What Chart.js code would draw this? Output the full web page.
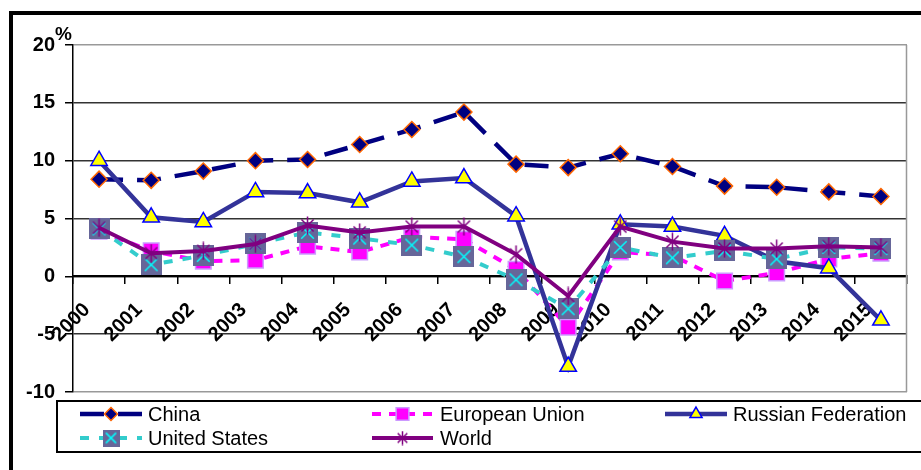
<!DOCTYPE html>
<html><head><meta charset="utf-8">
<script src="https://cdn.jsdelivr.net/npm/chart.js@4.4.1/dist/chart.umd.min.js"></script>
<style>html,body{margin:0;padding:0;background:#fff;}canvas{display:block}</style>
</head><body>
<canvas id="c" width="921" height="470"></canvas>
<script>
const years = ['2000','2001','2002','2003','2004','2005','2006','2007','2008','2009','2010','2011','2012','2013','2014','2015'];
const china  = [8.4, 8.3, 9.1, 10.0, 10.1, 11.4, 12.7, 14.2, 9.7, 9.4, 10.6, 9.5, 7.8, 7.7, 7.3, 6.9];
const eu     = [3.9, 2.2, 1.3, 1.4, 2.6, 2.1, 3.4, 3.2, 0.6, -4.4, 2.1, 1.8, -0.4, 0.3, 1.5, 2.0];
const russia = [10.0, 5.1, 4.7, 7.3, 7.2, 6.4, 8.2, 8.5, 5.2, -7.8, 4.5, 4.3, 3.5, 1.3, 0.7, -3.8];
const usa    = [4.1, 1.0, 1.8, 2.8, 3.8, 3.3, 2.7, 1.7, -0.3, -2.8, 2.5, 1.6, 2.2, 1.5, 2.5, 2.4];
const world  = [4.2, 2.0, 2.2, 2.8, 4.4, 3.8, 4.3, 4.3, 1.9, -1.7, 4.3, 3.0, 2.4, 2.4, 2.6, 2.5];
const seriesNames = ['China','European Union','Russian Federation','United States','World'];
const yTicks = [-10, -5, 0, 5, 10, 15, 20];

function makeUsMarker(s){
  const c=document.createElement('canvas'); c.width=s; c.height=s;
  const x=c.getContext('2d');
  x.fillStyle='#666699'; x.fillRect(0,0,s,s);
  x.strokeStyle='#00FFFF'; x.lineWidth=1.5;
  const m=s*0.2;
  x.beginPath(); x.moveTo(m,m); x.lineTo(s-m,s-m); x.moveTo(s-m,m); x.lineTo(m,s-m); x.stroke();
  return c;
}
function makeStar(s){
  const c=document.createElement('canvas'); c.width=s; c.height=s;
  const x=c.getContext('2d');
  x.strokeStyle='#800080'; x.lineWidth=1.5;
  const m=s*0.18;
  x.beginPath();
  x.moveTo(s/2,0.5); x.lineTo(s/2,s-0.5);
  x.moveTo(m,m); x.lineTo(s-m,s-m); x.moveTo(s-m,m); x.lineTo(m,s-m);
  x.stroke();
  return c;
}
const usMarker = makeUsMarker(21);
const usMarkerSmall = makeUsMarker(17);
const worldStar = makeStar(19);
const worldStarSmall = makeStar(15);

const FONT = '"Liberation Sans", Arial, sans-serif';

const datasets = [
  {label: seriesNames[0], data: china, borderColor:'#000080', backgroundColor:'#000080', borderWidth:4.5, borderDash:[24,14],
   pointStyle:'rectRot', pointRadius:8, pointBorderColor:'#FF6600', pointBackgroundColor:'#000080', pointBorderWidth:1.5, order:5},
  {label: seriesNames[1], data: eu, borderColor:'#FF00FF', backgroundColor:'#FF00FF', borderWidth:4, borderDash:[9,8],
   pointStyle:'rect', pointRadius:11, pointBorderColor:'#CC99FF', pointBackgroundColor:'#FF00FF', pointBorderWidth:1.5, order:4},
  {label: seriesNames[2], data: russia, borderColor:'#333399', backgroundColor:'#333399', borderWidth:4.5,
   pointStyle:'triangle', pointRadius:9.5, pointBorderColor:'#0000FF', pointBackgroundColor:'#FFFF00', pointBorderWidth:1.5, order:3},
  {label: seriesNames[3], data: usa, borderColor:'#33CCCC', backgroundColor:'#33CCCC', borderWidth:4, borderDash:[9,10],
   pointStyle:usMarker, pointRadius:10, order:2},
  {label: seriesNames[4], data: world, borderColor:'#800080', backgroundColor:'#800080', borderWidth:4,
   pointStyle:worldStar, pointRadius:9, order:1}
];
datasets.forEach(d=>{d.tension=0; d.fill=false; d.pointHoverRadius=d.pointRadius;});

const legendCfg = [
  {i:0, x0:80, x1:142, y:414, tx:148, small:{pointStyle:'rectRot', radius:6.5}},
  {i:1, x0:372, x1:433, y:414, tx:440, small:{pointStyle:'rect', radius:9}},
  {i:2, x0:665, x1:727, y:414, tx:733, small:{pointStyle:'triangle', radius:7}},
  {i:3, x0:80, x1:142, y:438, tx:148, small:{pointStyle:usMarkerSmall, radius:8}},
  {i:4, x0:372, x1:433, y:438, tx:440, small:{pointStyle:worldStarSmall, radius:7}}
];

const decor = {
  id:'decor',
  beforeDatasetsDraw(chart){
    const {ctx, chartArea:a} = chart;
    ctx.save();
    ctx.strokeStyle='#999'; ctx.lineWidth=1.5;
    ctx.beginPath(); ctx.moveTo(a.right-0.5, a.top); ctx.lineTo(a.right-0.5, a.bottom); ctx.stroke();
    ctx.restore();
  },
  afterDraw(chart){
    const ctx = chart.ctx;
    ctx.save();
    ctx.fillStyle='#000';
    ctx.fillRect(9,11,912,4);
    ctx.fillRect(9,11,4,459);
    ctx.font='bold 19px '+FONT; ctx.fillStyle='#000'; ctx.textAlign='left'; ctx.textBaseline='alphabetic';
    ctx.fillText('%',55,40);
    ctx.fillStyle='#fff'; ctx.fillRect(57,401,870,51);
    ctx.strokeStyle='#000'; ctx.lineWidth=2;
    ctx.strokeRect(57,401,870,51);
    legendCfg.forEach(L=>{
      const ds = chart.data.datasets[L.i];
      ctx.save();
      ctx.strokeStyle=ds.borderColor; ctx.lineWidth=ds.borderWidth;
      ctx.setLineDash(ds.borderDash||[]);
      ctx.beginPath(); ctx.moveTo(L.x0,L.y); ctx.lineTo(L.x1,L.y); ctx.stroke();
      ctx.setLineDash([]);
      ctx.fillStyle = ds.pointBackgroundColor||ds.borderColor;
      ctx.strokeStyle = ds.pointBorderColor||ds.borderColor;
      ctx.lineWidth = ds.pointBorderWidth||1;
      Chart.helpers.drawPoint(ctx, {pointStyle:L.small.pointStyle, radius:L.small.radius, rotation:0, borderWidth:ds.pointBorderWidth||0}, (L.x0+L.x1)/2, L.y);
      ctx.restore();
      ctx.font='20px '+FONT; ctx.fillStyle='#000'; ctx.textBaseline='middle'; ctx.textAlign='left';
      ctx.fillText(ds.label, L.tx, L.y+1);
    });
    ctx.restore();
  }
};

new Chart(document.getElementById('c'), {
  type:'line',
  data:{labels:years, datasets},
  options:{
    responsive:false, animation:false, devicePixelRatio:1,
    layout:{padding:{left:0, top:45, right:1, bottom:78}},
    plugins:{legend:{display:false}, tooltip:{enabled:false}},
    scales:{
      y:{
        min:-10, max:20,
        afterFit(s){ s.width = 73; },
        afterBuildTicks(s){ s.ticks = yTicks.map(v=>({value:v})); },
        ticks:{font:{family:FONT, size:20, weight:'bold'}, color:'#000', padding:10},
        grid:{color:(c)=> (c.tick && (c.tick.value===20 || c.tick.value===-10)) ? '#999' : '#333', lineWidth:1.5, tickColor:'#000', tickLength:8},
        border:{color:'#000', width:1.5}
      },
      x:{
        type:'category', offset:true, position:{y:0},
        ticks:{font:{family:FONT, size:20, weight:'bold'}, color:'#000', minRotation:45, maxRotation:45, autoSkip:false, padding:15, labelOffset:-12},
        grid:{offset:true, drawOnChartArea:false, drawTicks:true, tickLength:7, tickColor:'#000', lineWidth:1.5},
        border:{color:'#000', width:2}
      }
    }
  },
  plugins:[decor]
});
</script>
</body></html>
